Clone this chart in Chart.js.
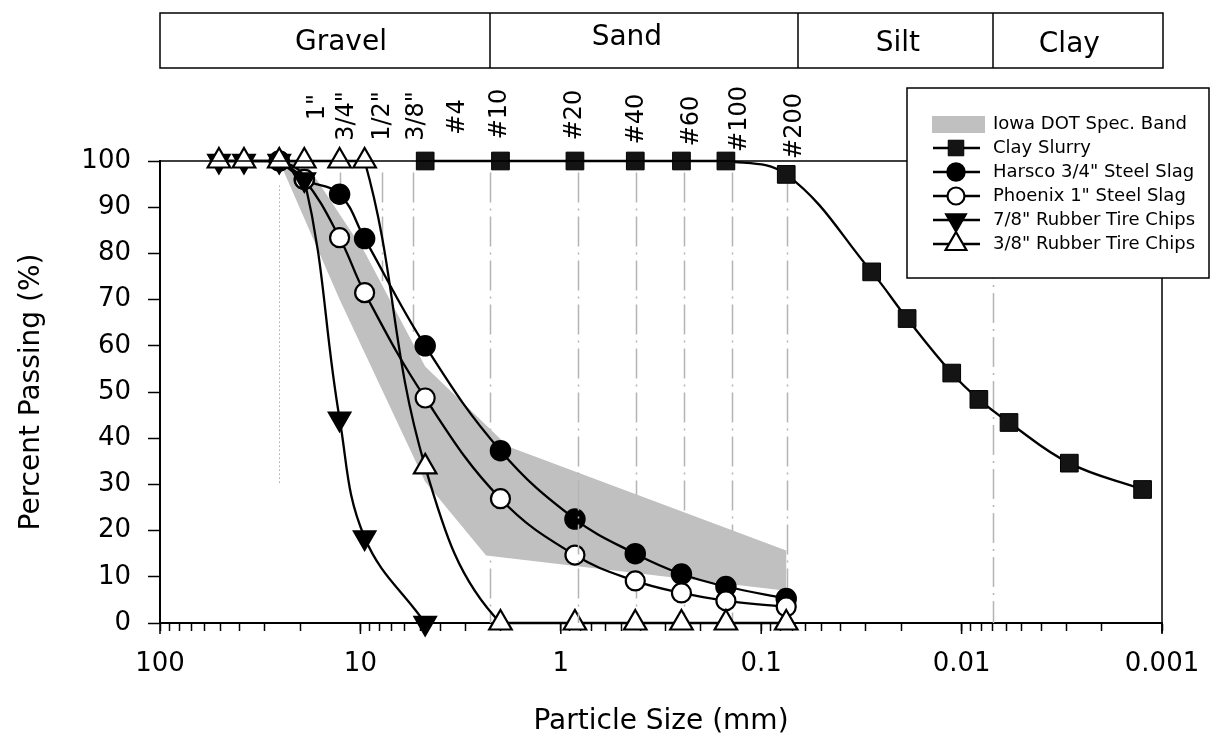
<!DOCTYPE html>
<html>
<head>
<meta charset="utf-8">
<script src="https://cdn.jsdelivr.net/npm/chart.js@4.4.0/dist/chart.umd.min.js"></script>
<style>
  html, body { margin: 0; padding: 0; background: #fff; }
  canvas { display: block; }
</style>
</head>
<body>
<canvas id="gradation" width="1216" height="749"></canvas>
<script>
const FONT = "'DejaVu Sans', 'Liberation Sans', Arial, sans-serif";

// particle size (mm) and percent passing for each material
const harscoSizes = [25.4, 19.05, 12.7, 9.525, 4.75, 2.0, 0.85, 0.425, 0.25, 0.15, 0.075];
const harscoPassing = [100, 96, 92.8, 83.2, 60, 37.3, 22.5, 15, 10.6, 7.9, 5.3];

const phoenixSizes = [25.4, 19.05, 12.7, 9.525, 4.75, 2.0, 0.85, 0.425, 0.25, 0.15, 0.075];
const phoenixPassing = [100, 96, 83.4, 71.5, 48.7, 26.9, 14.7, 9.1, 6.5, 4.8, 3.5];

const tire78Sizes = [50.8, 38.1, 25.4, 19.05, 12.7, 9.525, 4.75];
const tire78Passing = [100, 100, 100, 96, 44.2, 18.5, 0];

const tire38Sizes = [50.8, 38.1, 25.4, 19.05, 12.7, 9.525, 4.75, 2.0, 0.85, 0.425, 0.25, 0.15, 0.075];
const tire38Passing = [100, 100, 100, 100, 100, 100, 33.8, 0, 0, 0, 0, 0, 0];

const claySizes = [4.75, 2.0, 0.85, 0.425, 0.25, 0.15, 0.075, 0.0281, 0.0187, 0.0112, 0.0082, 0.0058, 0.0029, 0.00125];
const clayPassing = [100, 100, 100, 100, 100, 100, 97.1, 76.0, 65.9, 54.1, 48.4, 43.4, 34.6, 28.9];

// Iowa DOT specification band limits
const bandUpperSizes = [19.05, 9.525, 4.75, 1.83, 0.075];
const bandUpperPassing = [100, 80.3, 55.5, 38.2, 15.7];
const bandLowerSizes = [25.4, 12.7, 4.75, 2.36, 0.075];
const bandLowerPassing = [100, 70, 30.6, 14.6, 7];

// axis ticks
const yTicks = [0, 10, 20, 30, 40, 50, 60, 70, 80, 90, 100];
const xDecades = [0.001, 0.01, 0.1, 1, 10, 100];
const xDecadeLabels = ["0.001", "0.01", "0.1", "1", "10", "100"];

// sieve names along the top
const sieveLabels = ['1"', '3/4"', '1/2"', '3/8"', "#4", "#10", "#20", "#40", "#60", "#100", "#200"];
const sieveLabelAt = [16.3, 11.67, 7.71, 5.22, 3.26, 2.01, 0.849, 0.417, 0.2215, 0.1276, 0.0678];

// vertical reference lines (mm) and their extent in percent passing
const gridSizes = [25.4, 12.7, 7.8, 5.46, 2.25, 0.825, 0.4225, 0.243, 0.1404, 0.0743, 0.00697];
const gridTop = [94.7, 97.5, 97.5, 97.5, 97.5, 97.5, 97.5, 97.5, 97.5, 97.5, 100];
const gridBottom = [29.8, 93, 74, 63, 0, 0, 0, 0, 0, 0, 0];

// soil classes table
const soilClasses = ["Gravel", "Sand", "Silt", "Clay"];
const soilBounds = [2.25, 0.0655, 0.00697];
const soilLabelAt = [12.5, 0.468, 0.0208, 0.0029];

const toXY = (sizes, vals) => sizes.map((s, i) => ({ x: s, y: vals[i] }));

const bandPoints = toXY(bandUpperSizes, bandUpperPassing).concat(
  toXY(bandLowerSizes, bandLowerPassing).reverse()
);

const datasets = [
  {
    label: "Iowa DOT Spec. Band",
    data: bandPoints,
    fill: "shape",
    backgroundColor: "#c0c0c0",
    borderWidth: 0,
    pointRadius: 0,
    tension: 0,
    order: 6,
  },
  {
    label: "Clay Slurry",
    data: toXY(claySizes, clayPassing),
    borderColor: "#000",
    borderWidth: 2.3,
    pointStyle: "rect",
    pointRadius: 12.5,
    pointBackgroundColor: "#141414",
    pointBorderColor: "#000",
    pointBorderWidth: 1,
    tension: 0.4,
    clip: false,
    order: 5,
  },
  {
    label: 'Harsco 3/4" Steel Slag',
    data: toXY(harscoSizes, harscoPassing),
    borderColor: "#000",
    borderWidth: 2.3,
    pointStyle: "circle",
    pointRadius: 10,
    pointBackgroundColor: "#000",
    pointBorderColor: "#000",
    pointBorderWidth: 1.5,
    tension: 0.4,
    clip: false,
    order: 4,
  },
  {
    label: 'Phoenix 1" Steel Slag',
    data: toXY(phoenixSizes, phoenixPassing),
    borderColor: "#000",
    borderWidth: 2.3,
    pointStyle: "circle",
    pointRadius: 9.5,
    pointBackgroundColor: "#fff",
    pointBorderColor: "#000",
    pointBorderWidth: 2.2,
    tension: 0.4,
    clip: false,
    order: 3,
  },
  {
    label: '7/8" Rubber Tire Chips',
    data: toXY(tire78Sizes, tire78Passing),
    borderColor: "#000",
    borderWidth: 2.3,
    pointStyle: "triangle",
    rotation: 180,
    pointRadius: 13,
    pointBackgroundColor: "#000",
    pointBorderColor: "#000",
    pointBorderWidth: 1.5,
    tension: 0.4,
    clip: false,
    order: 2,
  },
  {
    label: '3/8" Rubber Tire Chips',
    data: toXY(tire38Sizes, tire38Passing),
    borderColor: "#000",
    borderWidth: 2.3,
    pointStyle: "triangle",
    pointRadius: 13,
    pointBackgroundColor: "#fff",
    pointBorderColor: "#000",
    pointBorderWidth: 2.2,
    tension: 0.4,
    clip: false,
    order: 1,
  },
];

const isDecade = (v) => Math.abs(Math.log10(v) - Math.round(Math.log10(v))) < 1e-9;

function drawGrid(chart, onTop) {
  const { ctx, scales } = chart;
  gridSizes.forEach((size, i) => {
    const top = i === 5;
    if (top !== onTop) return;
    const x = Math.round(scales.x.getPixelForValue(size)) + 0.5;
    ctx.save();
    ctx.beginPath();
    ctx.moveTo(x, scales.y.getPixelForValue(gridTop[i]));
    ctx.lineTo(x, scales.y.getPixelForValue(gridBottom[i]));
    if (i === 0) {
      ctx.strokeStyle = "#a8a8a8";
      ctx.lineWidth = 1;
      ctx.setLineDash([1.5, 2.5]);
    } else {
      ctx.strokeStyle = "#b4b4b4";
      ctx.lineWidth = 1.5;
      ctx.setLineDash([30, 6, 2, 6]);
    }
    ctx.stroke();
    ctx.restore();
  });
}

function drawFrame(chart) {
  const { ctx, chartArea, scales } = chart;
  ctx.save();
  ctx.strokeStyle = "#000";
  ctx.lineWidth = 1.5;
  ctx.beginPath();
  ctx.moveTo(chartArea.left, chartArea.top);
  ctx.lineTo(chartArea.right, chartArea.top);
  ctx.lineTo(chartArea.right, chartArea.bottom + 10);
  ctx.stroke();
  // longer ticks at each decade
  xDecades.forEach((d) => {
    const x = scales.x.getPixelForValue(d);
    ctx.beginPath();
    ctx.moveTo(x, chartArea.bottom);
    ctx.lineTo(x, chartArea.bottom + 11);
    ctx.stroke();
  });
  ctx.restore();
}

function drawTable(chart) {
  const { ctx, chartArea, scales } = chart;
  const top = 13, bottom = 68;
  const left = chartArea.left, right = chartArea.right + 1;
  const labelY = [43, 38, 44, 45];
  ctx.save();
  ctx.strokeStyle = "#000";
  ctx.lineWidth = 1.5;
  ctx.strokeRect(left, top, right - left, bottom - top);
  soilBounds.forEach((b) => {
    const x = Math.round(scales.x.getPixelForValue(b));
    ctx.beginPath();
    ctx.moveTo(x, top);
    ctx.lineTo(x, bottom);
    ctx.stroke();
  });
  ctx.fillStyle = "#000";
  ctx.font = "28px " + FONT;
  ctx.textAlign = "center";
  ctx.textBaseline = "middle";
  soilClasses.forEach((name, i) => {
    ctx.fillText(name, scales.x.getPixelForValue(soilLabelAt[i]), labelY[i]);
  });
  ctx.restore();
}

function drawSieveLabels(chart) {
  const { ctx, scales } = chart;
  const labelY = [107, 116, 116, 116, 117, 114, 115, 119, 121, 119, 126];
  ctx.save();
  ctx.fillStyle = "#000";
  ctx.font = "24px " + FONT;
  ctx.textAlign = "center";
  ctx.textBaseline = "middle";
  sieveLabels.forEach((label, i) => {
    ctx.save();
    ctx.translate(scales.x.getPixelForValue(sieveLabelAt[i]), labelY[i]);
    ctx.rotate(-Math.PI / 2);
    ctx.fillText(label, 0, 0);
    ctx.restore();
  });
  ctx.restore();
}

function drawLegend(chart) {
  const { ctx } = chart;
  const box = { left: 907, top: 88, right: 1209, bottom: 278 };
  ctx.save();
  ctx.fillStyle = "#fff";
  ctx.fillRect(box.left, box.top, box.right - box.left, box.bottom - box.top);
  ctx.strokeStyle = "#000";
  ctx.lineWidth = 1.5;
  ctx.strokeRect(box.left, box.top, box.right - box.left, box.bottom - box.top);

  ctx.font = "18px " + FONT;
  ctx.textBaseline = "middle";
  ctx.textAlign = "left";
  datasets.forEach((ds, i) => {
    const y = 124 + i * 24;
    if (i === 0) {
      ctx.fillStyle = ds.backgroundColor;
      ctx.fillRect(932, y - 8, 53, 17);
    } else {
      ctx.strokeStyle = "#000";
      ctx.lineWidth = ds.borderWidth;
      ctx.beginPath();
      ctx.moveTo(933, y);
      ctx.lineTo(980, y);
      ctx.stroke();
      ctx.fillStyle = ds.pointBackgroundColor;
      ctx.strokeStyle = ds.pointBorderColor;
      ctx.lineWidth = ds.pointBorderWidth;
      Chart.helpers.drawPoint(ctx, {
        pointStyle: ds.pointStyle,
        rotation: ds.rotation || 0,
        radius: ds.pointStyle === "rect" ? 11 : ds.pointRadius - 1,
        borderWidth: ds.pointBorderWidth,
      }, 956, y);
    }
    ctx.fillStyle = "#000";
    ctx.fillText(ds.label, 993, y);
  });
  ctx.restore();
}

const decorations = {
  id: "decorations",
  beforeDatasetsDraw(chart) {
    drawGrid(chart, false);
  },
  afterDatasetsDraw(chart) {
    drawGrid(chart, true);
    drawFrame(chart);
  },
  afterDraw(chart) {
    drawTable(chart);
    drawSieveLabels(chart);
    drawLegend(chart);
  },
};

new Chart(document.getElementById("gradation").getContext("2d"), {
  type: "line",
  data: { datasets },
  plugins: [decorations],
  options: {
    responsive: false,
    animation: false,
    events: [],
    layout: { padding: { top: 161, right: 54, left: 0, bottom: 0 } },
    plugins: {
      legend: { display: false },
      tooltip: { enabled: false },
    },
    scales: {
      x: {
        type: "logarithmic",
        reverse: true,
        min: 0.001,
        max: 100,
        afterFit: (scale) => {
          scale.height = 126;
        },
        afterBuildTicks: (scale) => {
          const ticks = [];
          xDecades.forEach((d) => {
            for (let m = 1; m <= 9; m++) {
              const v = +(d * m).toPrecision(4);
              if (v <= 100) ticks.push({ value: v });
            }
          });
          scale.ticks = ticks;
        },
        border: { display: true, color: "#000", width: 2 },
        grid: {
          drawOnChartArea: false,
          drawTicks: true,
          tickLength: 8,
          tickColor: "#000",
          tickWidth: 1.5,
        },
        ticks: {
          autoSkip: false,
          maxRotation: 0,
          minRotation: 0,
          padding: 18,
          color: "#000",
          font: { family: FONT, size: 26 },
          callback: (value) => {
            if (!isDecade(value)) return "";
            return xDecadeLabels[xDecades.findIndex((d) => Math.abs(d - value) / d < 1e-6)];
          },
        },
        title: {
          display: true,
          text: "Particle Size (mm)",
          color: "#000",
          font: { family: FONT, size: 28 },
          padding: { top: 0, bottom: 10 },
        },
      },
      y: {
        min: 0,
        max: 100,
        afterFit: (scale) => {
          scale.width = 160;
        },
        afterBuildTicks: (scale) => {
          scale.ticks = yTicks.map((v) => ({ value: v }));
        },
        border: { display: true, color: "#000", width: 2 },
        grid: {
          drawOnChartArea: false,
          drawTicks: true,
          tickLength: 12,
          tickColor: "#000",
          tickWidth: 1.5,
        },
        ticks: {
          padding: 17,
          color: "#000",
          font: { family: FONT, size: 26 },
        },
        title: {
          display: true,
          text: "Percent Passing (%)",
          color: "#000",
          font: { family: FONT, size: 28 },
          padding: { top: 15, bottom: 0 },
        },
      },
    },
  },
});
</script>
</body>
</html>
